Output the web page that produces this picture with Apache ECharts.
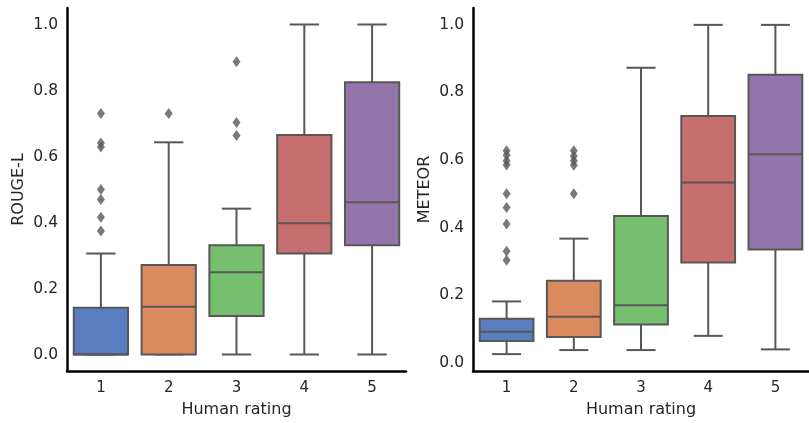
<!DOCTYPE html>
<html>
<head>
<meta charset="utf-8">
<script src="https://cdn.jsdelivr.net/npm/echarts@6/dist/echarts.min.js"></script>
<style>
  html, body { margin: 0; padding: 0; background: #fff; }
  #container { width: 809px; height: 423px; }
</style>
</head>
<body>
<div id="container"></div>
<script>
// categories
const ratings = ['1', '2', '3', '4', '5'];

// box stats per rating: [min, q1, median, q3, max]
const rougeStats = [
    [0.000, 0.000, 0.000, 0.142, 0.306],
    [0.000, 0.000, 0.145, 0.271, 0.643],
    [0.000, 0.117, 0.249, 0.331, 0.442],
    [0.000, 0.306, 0.398, 0.665, 1.000],
    [0.000, 0.331, 0.461, 0.825, 1.000]
];
const rougeOutliers = [
    [0.730, 0.641, 0.629, 0.500, 0.470, 0.416, 0.374],
    [0.730],
    [0.887, 0.703, 0.664],
    [],
    []
];

const meteorStats = [
    [0.025, 0.064, 0.091, 0.130, 0.181],
    [0.037, 0.076, 0.136, 0.242, 0.367],
    [0.037, 0.113, 0.170, 0.434, 0.873],
    [0.079, 0.296, 0.533, 0.730, 1.000],
    [0.039, 0.335, 0.617, 0.852, 1.000]
];
const meteorOutliers = [
    [0.627, 0.614, 0.598, 0.585, 0.500, 0.459, 0.410, 0.330, 0.303],
    [0.627, 0.612, 0.598, 0.584, 0.500],
    [],
    [],
    []
];

const yTicks = [0, 0.2, 0.4, 0.6, 0.8, 1.0];

const boxColors = ['#597dbf', '#da8a5e', '#75bf6f', '#c76e6e', '#9475ab'];
const edge = '#575757';
const font = 'DejaVu Sans';

function renderBox(params, api) {
    const i = api.value(0);
    const pMin = api.coord([i, api.value(1)]);
    const pQ1 = api.coord([i, api.value(2)]);
    const pMed = api.coord([i, api.value(3)]);
    const pQ3 = api.coord([i, api.value(4)]);
    const pMax = api.coord([i, api.value(5)]);
    const band = api.size([1, 0])[0];
    const bw = band * 0.8;
    const cw = bw * 0.54;
    const cx = pMed[0];
    const ls = { stroke: edge, lineWidth: 2 };
    return {
        type: 'group',
        children: [
            { type: 'line', shape: { x1: cx, y1: pQ3[1], x2: cx, y2: pMax[1] }, style: ls },
            { type: 'line', shape: { x1: cx, y1: pMin[1], x2: cx, y2: pQ1[1] }, style: ls },
            { type: 'line', shape: { x1: cx - cw / 2, y1: pMax[1], x2: cx + cw / 2, y2: pMax[1] }, style: ls },
            { type: 'line', shape: { x1: cx - cw / 2, y1: pMin[1], x2: cx + cw / 2, y2: pMin[1] }, style: ls },
            {
                type: 'rect',
                shape: { x: cx - bw / 2, y: pQ3[1], width: bw, height: pQ1[1] - pQ3[1] },
                style: { fill: boxColors[i], stroke: edge, lineWidth: 2 }
            },
            { type: 'line', shape: { x1: cx - bw / 2, y1: pMed[1], x2: cx + bw / 2, y2: pMed[1] }, style: ls }
        ]
    };
}

function boxData(stats) {
    return stats.map((s, i) => [i].concat(s));
}
function outlierData(out) {
    const res = [];
    out.forEach((vals, i) => vals.forEach(v => res.push([i, v])));
    return res;
}

function xAxisCfg(idx) {
    return {
        type: 'category',
        gridIndex: idx,
        data: ratings,
        boundaryGap: true,
        name: 'Human rating',
        nameLocation: 'middle',
        nameGap: 31,
        nameTextStyle: { fontFamily: font, fontSize: 16, color: '#262626' },
        axisLine: { onZero: false, lineStyle: { color: '#000', width: 2.5 } },
        axisTick: { show: false },
        axisLabel: { fontFamily: font, fontSize: 15, color: '#262626', margin: 10 },
        splitLine: { show: false }
    };
}
function yAxisCfg(idx, name, min, max) {
    return {
        type: 'value',
        gridIndex: idx,
        min: min,
        max: max,
        name: name,
        nameLocation: 'middle',
        nameGap: 40,
        nameTextStyle: { fontFamily: font, fontSize: 16, color: '#262626' },
        axisLine: { show: true, onZero: false, lineStyle: { color: '#000', width: 2.5 } },
        axisTick: { show: false },
        axisLabel: {
            fontFamily: font, fontSize: 15.5, color: '#262626', margin: 9,
            padding: [3, 0, 0, 0],
            customValues: yTicks,
            formatter: v => v.toFixed(1)
        },
        splitLine: { show: false }
    };
}

var dom = document.getElementById('container');
var myChart = echarts.init(dom, null, { renderer: 'canvas' });

var option = {
    animation: false,
    grid: [
        { left: 67, top: 8, width: 339, height: 363 },
        { left: 473, top: 8, width: 339, height: 363 }
    ],
    xAxis: [xAxisCfg(0), xAxisCfg(1)],
    yAxis: [
        yAxisCfg(0, 'ROUGE-L', -0.05, 1.05),
        yAxisCfg(1, 'METEOR', -0.025, 1.05)
    ],
    series: [
        {
            type: 'custom',
            xAxisIndex: 0, yAxisIndex: 0,
            renderItem: renderBox,
            encode: { x: 0, y: [1, 2, 3, 4, 5] },
            data: boxData(rougeStats)
        },
        {
            type: 'scatter',
            xAxisIndex: 0, yAxisIndex: 0,
            symbol: 'diamond',
            symbolSize: [8, 11],
            itemStyle: { color: edge },
            data: outlierData(rougeOutliers)
        },
        {
            type: 'custom',
            xAxisIndex: 1, yAxisIndex: 1,
            renderItem: renderBox,
            encode: { x: 0, y: [1, 2, 3, 4, 5] },
            data: boxData(meteorStats)
        },
        {
            type: 'scatter',
            xAxisIndex: 1, yAxisIndex: 1,
            symbol: 'diamond',
            symbolSize: [8, 11],
            itemStyle: { color: edge },
            data: outlierData(meteorOutliers)
        }
    ]
};

myChart.setOption(option);
window.addEventListener('resize', myChart.resize);
</script>
</body>
</html>
